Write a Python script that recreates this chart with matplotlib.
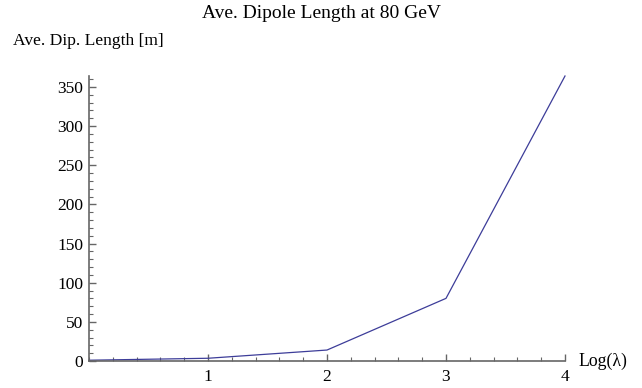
import matplotlib.pyplot as plt
from matplotlib.ticker import MultipleLocator

plt.rcParams['font.family'] = ['Liberation Serif', 'DejaVu Serif']

log_lambda = [0, 1, 2, 3, 4]
dip_length = [1, 3.5, 14, 80, 364]
x_ticks = [1, 2, 3, 4]
y_ticks = [0, 50, 100, 150, 200, 250, 300, 350]

fig = plt.figure(figsize=(6.42, 3.88), dpi=100)
ax = fig.add_axes([89/642, 27/388, 476/642, 285/388])

ax.plot(log_lambda, dip_length, color='#3d3d99', lw=0.9, clip_on=False)

ax.set_xlim(0, 4)
ax.set_ylim(0, 364)
ax.set_xticks(x_ticks)
ax.set_yticks(y_ticks)
ax.xaxis.set_minor_locator(MultipleLocator(0.2))
ax.yaxis.set_minor_locator(MultipleLocator(10))

for s in ['top', 'right']:
    ax.spines[s].set_visible(False)
for s in ['left', 'bottom']:
    ax.spines[s].set_color('#666666')
    ax.spines[s].set_linewidth(1.2)

ax.tick_params(which='both', direction='in', colors='#666666', labelcolor='black',
               labelsize=12.5)
ax.tick_params(which='major', length=5, width=1)
ax.tick_params(which='minor', length=3, width=0.8)
ax.tick_params(axis='x', pad=6)
ax.tick_params(axis='y', pad=4)

fig.text(321/642, 1 - 14/388, 'Ave. Dipole Length at 80 GeV', ha='center', va='center', fontsize=14)
fig.text(13/642, 1 - 41/388, 'Ave. Dip. Length [m]', ha='left', va='center', fontsize=12.6)
fig.text(578/642, 1 - 361/388, 'Log(λ)', ha='left', va='center', fontsize=12.8)

fig.savefig('out.png', dpi=100)
plt.close()
